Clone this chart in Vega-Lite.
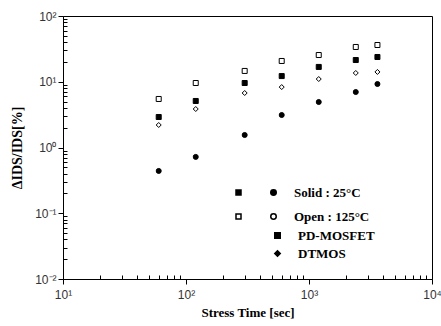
{
  "$schema": "https://vega.github.io/schema/vega-lite/v6.json",
  "autosize": "none",
  "width": 369,
  "height": 263,
  "padding": {"left": 63, "top": 16, "right": 9, "bottom": 47},
  "background": "white",
  "config": {
    "view": {"stroke": "black", "strokeWidth": 1},
    "axis": {"grid": false, "domainColor": "black", "tickColor": "black", "labelFont": "Liberation Sans", "labelFontSize": 12, "labelColor": "#333", "titleFont": "Liberation Serif", "titleFontWeight": "bold", "titleFontSize": 13, "titleColor": "black"},
    "legend": {"labelFont": "Liberation Serif", "labelFontWeight": "bold", "labelFontSize": 13, "labelColor": "black", "padding": 0}
  },
  "datasets": {
    "pts": [
      {"t": 60, "v": 5.47, "series": "PD 125"},
      {"t": 120, "v": 9.57, "series": "PD 125"},
      {"t": 300, "v": 14.6, "series": "PD 125"},
      {"t": 600, "v": 20.7, "series": "PD 125"},
      {"t": 1200, "v": 25.5, "series": "PD 125"},
      {"t": 2400, "v": 33.8, "series": "PD 125"},
      {"t": 3600, "v": 36.2, "series": "PD 125"},
      {"t": 60, "v": 2.91, "series": "PD 25"},
      {"t": 120, "v": 5.1, "series": "PD 25"},
      {"t": 300, "v": 9.57, "series": "PD 25"},
      {"t": 600, "v": 12.2, "series": "PD 25"},
      {"t": 1200, "v": 16.8, "series": "PD 25"},
      {"t": 2400, "v": 21.4, "series": "PD 25"},
      {"t": 3600, "v": 23.8, "series": "PD 25"},
      {"t": 60, "v": 2.2, "series": "DT 125"},
      {"t": 120, "v": 3.85, "series": "DT 125"},
      {"t": 300, "v": 6.74, "series": "DT 125"},
      {"t": 600, "v": 8.3, "series": "DT 125"},
      {"t": 1200, "v": 11.0, "series": "DT 125"},
      {"t": 2400, "v": 13.6, "series": "DT 125"},
      {"t": 3600, "v": 14.1, "series": "DT 125"},
      {"t": 60, "v": 0.44, "series": "DT 25"},
      {"t": 120, "v": 0.72, "series": "DT 25"},
      {"t": 300, "v": 1.55, "series": "DT 25"},
      {"t": 600, "v": 3.12, "series": "DT 25"},
      {"t": 1200, "v": 4.92, "series": "DT 25"},
      {"t": 2400, "v": 6.98, "series": "DT 25"},
      {"t": 3600, "v": 9.24, "series": "DT 25"}
    ],
    "legA": [{"k": "a"}, {"k": "b"}],
    "legB1": [{"k": "Solid : 25°C"}, {"k": "Open : 125°C"}],
    "legB2": [{"k": "PD-MOSFET"}, {"k": "DTMOS"}]
  },
  "layer": [
    {
      "data": {"name": "pts"},
      "mark": {"type": "point", "filled": false, "stroke": "black", "strokeWidth": 1, "opacity": 1},
      "encoding": {
        "x": {"field": "t", "type": "quantitative", "scale": {"type": "log", "domain": [10, 10000], "nice": false},
              "axis": {"orient": "bottom", "values": [10, 100, 1000, 10000], "tickSize": 5, "labelPadding": 5, "labelFlush": false,
                       "labelExpr": "datum.value < 50 ? '10¹' : datum.value < 500 ? '10²' : datum.value < 5000 ? '10³' : '10⁴'",
                       "title": "Stress Time [sec]", "titlePadding": 6}},
        "y": {"field": "v", "type": "quantitative", "scale": {"type": "log", "domain": [0.01, 100], "nice": false},
              "axis": {"orient": "left", "values": [0.01, 0.1, 1, 10, 100], "tickSize": 5, "labelPadding": 2, "labelFlush": false,
                       "labelExpr": "datum.value < 0.05 ? '10⁻²' : datum.value < 0.5 ? '10⁻¹' : datum.value < 5 ? '10⁰' : datum.value < 50 ? '10¹' : '10²'",
                       "title": "ΔIDS/IDS[%]", "titlePadding": 10, "titleFontSize": 14}},
        "shape": {"field": "series", "type": "nominal", "scale": {"domain": ["PD 25", "PD 125", "DT 25", "DT 125"], "range": ["square", "square", "circle", "diamond"]}, "legend": null},
        "fill": {"field": "series", "type": "nominal", "scale": {"domain": ["PD 25", "PD 125", "DT 25", "DT 125"], "range": ["black", "white", "black", "white"]}, "legend": null},
        "size": {"field": "series", "type": "nominal", "scale": {"domain": ["PD 25", "PD 125", "DT 25", "DT 125"], "range": [25, 25, 30, 40]}, "legend": null}
      }
    },
    {
      "data": {"name": "pts"},
      "mark": {"type": "point", "opacity": 0},
      "encoding": {
        "x": {"field": "t", "type": "quantitative",
              "axis": {"orient": "bottom", "values": [20, 30, 40, 50, 60, 70, 80, 90, 200, 300, 400, 500, 600, 700, 800, 900, 2000, 3000, 4000, 5000, 6000, 7000, 8000, 9000], "tickSize": -4, "labels": false, "domain": false, "title": null}},
        "y": {"field": "v", "type": "quantitative",
              "axis": {"orient": "left", "values": [0.02, 0.03, 0.04, 0.05, 0.06, 0.07, 0.08, 0.09, 0.2, 0.3, 0.4, 0.5, 0.6, 0.7, 0.8, 0.9, 2, 3, 4, 5, 6, 7, 8, 9, 20, 30, 40, 50, 60, 70, 80, 90], "tickSize": -4, "labels": false, "domain": false, "title": null}}
      }
    },
    {
      "data": {"name": "legA"},
      "transform": [{"filter": "false"}],
      "mark": {"type": "point", "stroke": "black", "strokeWidth": 1, "opacity": 1},
      "encoding": {
        "shape": {"field": "k", "type": "nominal", "scale": {"domain": ["a", "b"], "range": ["square", "square"]},
                  "legend": {"orient": "none", "legendX": 169, "legendY": 170, "title": null, "labelExpr": "''", "rowPadding": 10, "symbolSize": 25,
                             "encode": {"symbols": {"update": {"stroke": {"value": "black"}, "strokeWidth": {"value": 1}}}}}},
        "fill": {"field": "k", "type": "nominal", "scale": {"domain": ["a", "b"], "range": ["black", "white"]}}
      }
    },
    {
      "data": {"name": "legB1"},
      "transform": [{"filter": "false"}],
      "mark": {"type": "point", "stroke": "black", "strokeWidth": 1, "opacity": 1},
      "encoding": {
        "shape": {"field": "k", "type": "nominal", "scale": {"domain": ["Solid : 25°C", "Open : 125°C"], "range": ["circle", "circle"]},
                  "legend": {"orient": "none", "legendX": 204, "legendY": 170, "title": null, "rowPadding": 10, "symbolSize": 30, "labelOffset": 14,
                             "encode": {"symbols": {"update": {"stroke": {"value": "black"}, "strokeWidth": {"value": 1}}}}}},
        "fill": {"field": "k", "type": "nominal", "scale": {"domain": ["Solid : 25°C", "Open : 125°C"], "range": ["black", "white"]}}
      }
    },
    {
      "data": {"name": "legB2"},
      "transform": [{"filter": "false"}],
      "mark": {"type": "point", "stroke": "black", "strokeWidth": 1, "opacity": 1},
      "encoding": {
        "shape": {"field": "k", "type": "nominal", "scale": {"domain": ["PD-MOSFET", "DTMOS"], "range": ["square", "diamond"]},
                  "legend": {"orient": "none", "legendX": 208, "legendY": 213, "title": null, "rowPadding": 4, "symbolSize": 30, "labelOffset": 14,
                             "encode": {"symbols": {"update": {"stroke": {"value": "black"}, "strokeWidth": {"value": 1}}}}}},
        "fill": {"field": "k", "type": "nominal", "scale": {"domain": ["PD-MOSFET", "DTMOS"], "range": ["black", "black"]}}
      }
    }
  ],
  "resolve": {
    "scale": {"shape": "independent", "fill": "independent", "size": "independent"},
    "axis": {"x": "independent", "y": "independent"}
  }
}
